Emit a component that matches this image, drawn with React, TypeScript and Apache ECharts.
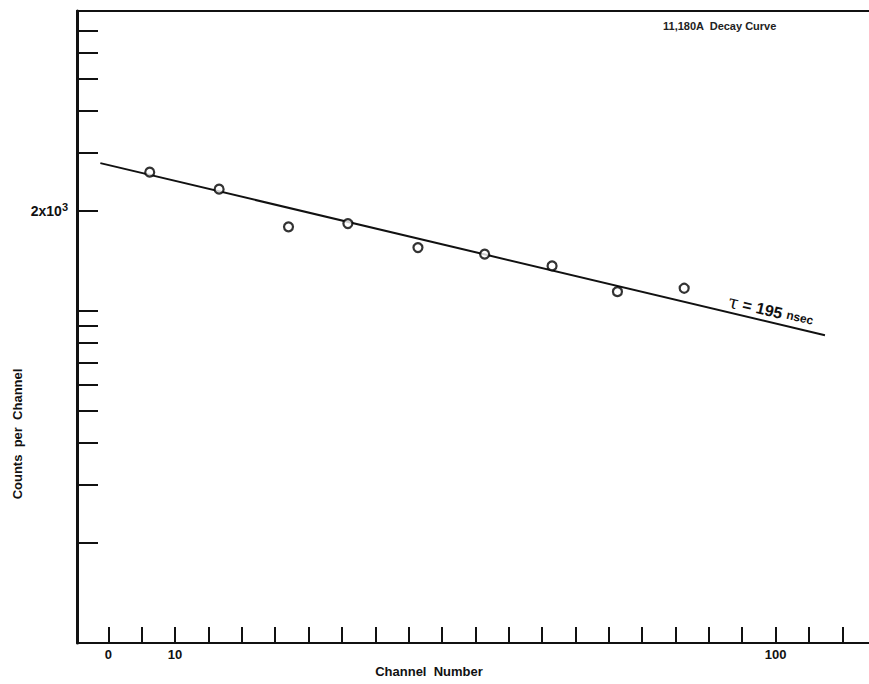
import React, { useEffect, useRef } from "react";
import * as echarts from "echarts";

// Measured decay points
const channels = [6.2, 16.6, 27.0, 35.9, 46.4, 56.4, 66.5, 76.3, 86.3];
const counts = [2617, 2326, 1791, 1832, 1551, 1482, 1366, 1143, 1170];

// Exponential fit (straight on the log axis), tau = 195 nsec
const fitChannels = [-1.2, 107.4];
const fitCounts = [2786, 845];

// Axis ticks and labels
const xTicks = [0, 5, 10, 15, 20, 25, 30, 35, 40, 45, 50, 55, 60, 65, 70, 75, 80, 85, 90, 95, 100, 105, 110];
const xLabels = [0, 10, 100];
const yTicks = [200, 300, 400, 500, 600, 700, 800, 900, 1000, 2000, 3000, 4000, 5000, 6000, 7000];
const yLabels = [2000];

const FONT = "'Liberation Sans', Arial, Helvetica, sans-serif";

export default function App() {
  const ref = useRef<HTMLDivElement>(null);

  useEffect(() => {
    if (!ref.current) return;
    const chart = echarts.init(ref.current, undefined, { renderer: "svg" });

    chart.setOption({
      animation: false,
      backgroundColor: "#ffffff",
      grid: { left: 77, right: 0, top: 11, bottom: 41, outerBoundsMode: "none" },
      xAxis: [
        {
          type: "value",
          min: -4.7,
          max: 114,
          position: "bottom",
          splitLine: { show: false },
          axisLine: { onZero: false, lineStyle: { color: "#111", width: 2 } },
          axisTick: {
            inside: true,
            length: 16,
            customValues: xTicks,
            lineStyle: { color: "#111", width: 2 },
          },
          axisLabel: {
            customValues: xLabels,
            margin: 5,
            color: "#111",
            fontFamily: FONT,
            fontWeight: "bold",
            fontSize: 13,
          },
        },
        {
          type: "value",
          min: -4.7,
          max: 114,
          position: "top",
          splitLine: { show: false },
          axisLine: { onZero: false, lineStyle: { color: "#111", width: 2 } },
          axisTick: { show: false },
          axisLabel: { show: false },
        },
      ],
      yAxis: {
        type: "log",
        logBase: 10,
        min: 100,
        max: 8000,
        splitLine: { show: false },
        axisLine: { onZero: false, lineStyle: { color: "#111", width: 3 } },
        axisTick: {
          inside: true,
          length: 21,
          customValues: yTicks,
          lineStyle: { color: "#111", width: 2 },
        },
        axisLabel: {
          customValues: yLabels,
          margin: 9,
          color: "#111",
          formatter: () => "{b|2x10}{s|3}",
          rich: {
            b: { fontFamily: FONT, fontWeight: "bold", fontSize: 14, color: "#111" },
            s: {
              fontFamily: FONT,
              fontWeight: "bold",
              fontSize: 11,
              color: "#111",
              verticalAlign: "top",
              padding: [0, 0, 8, 0],
            },
          },
        },
      },
      series: [
        {
          type: "line",
          data: fitChannels.map((c, i) => [c, fitCounts[i]]),
          showSymbol: false,
          symbol: "none",
          lineStyle: { color: "#111", width: 2 },
          silent: true,
          z: 2,
        },
        {
          type: "scatter",
          data: channels.map((c, i) => [c, counts[i]]),
          symbol: "circle",
          symbolSize: 9,
          itemStyle: { color: "#ffffff", borderColor: "#000", borderWidth: 2.2 },
          z: 3,
        },
      ],
      graphic: [
        {
          type: "text",
          left: 663,
          top: 20,
          style: {
            text: "11,180A  Decay Curve",
            font: `bold 11px ${FONT}`,
            fill: "#222",
          },
        },
        {
          type: "text",
          x: 429,
          y: 671,
          style: {
            text: "Channel  Number",
            font: `bold 13px ${FONT}`,
            fill: "#111",
            align: "center",
            verticalAlign: "middle",
          },
        },
        {
          type: "text",
          x: 17,
          y: 434,
          rotation: Math.PI / 2,
          style: {
            text: "Counts  per  Channel",
            font: `bold 13px ${FONT}`,
            fill: "#111",
            align: "center",
            verticalAlign: "middle",
          },
        },
        {
          type: "text",
          x: 771,
          y: 311,
          rotation: -0.232,
          style: {
            text: "{t|τ}{e| = 195 }{n|nsec}",
            align: "center",
            verticalAlign: "middle",
            rich: {
              t: { font: `18px 'DejaVu Serif', serif`, fill: "#111" },
              e: { font: `bold 16px ${FONT}`, fill: "#111" },
              n: { font: `bold 12px ${FONT}`, fill: "#111" },
            },
          },
        },
      ],
    });

    return () => chart.dispose();
  }, []);

  return (
    <div
      ref={ref}
      style={{ position: "fixed", left: 0, top: 0, width: 869, height: 684, background: "#fff" }}
    />
  );
}
